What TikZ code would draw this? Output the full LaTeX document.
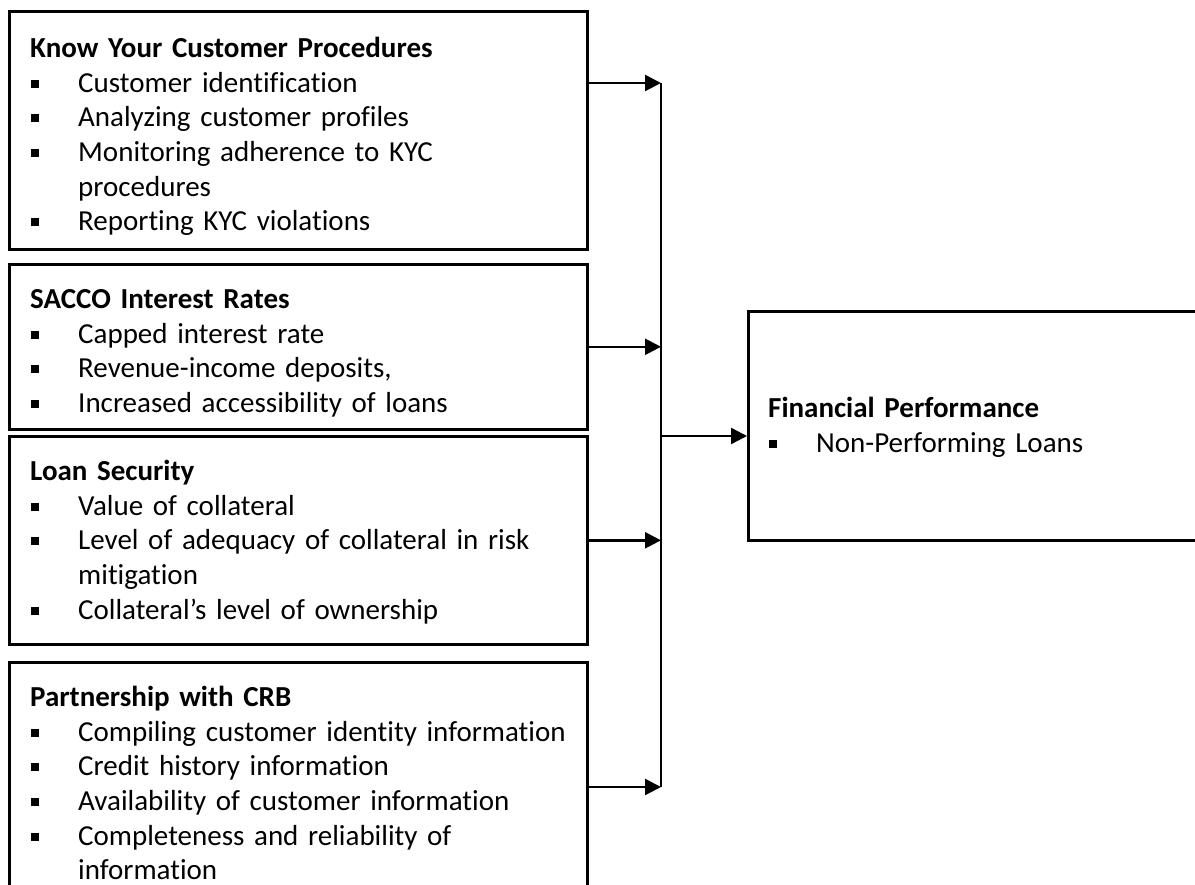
\documentclass[tikz,border=0pt]{standalone}
\usepackage{fontspec}
\setmainfont{Carlito}[Ligatures={NoCommon}]
\usetikzlibrary{positioning,arrows.meta}
\setlength{\parindent}{0pt}
\setlength{\parskip}{0pt}

%Square bullet and one item of a list
\newcommand{\sqbullet}{\rule[4.5pt]{8pt}{8pt}}
\newcommand{\bitem}[1]{\par\hangindent=48pt\hangafter=1\noindent\makebox[48pt][l]{\hspace{1pt}\sqbullet}#1\par}

\tikzset{
	factor/.style={draw, line width=2.6pt, minimum width=578pt, inner sep=0pt, anchor=north west},
	list/.style={font=\fontsize{29}{34.7}\selectfont, text width=560pt, inner sep=0pt},
	feed/.style={line width=2.4pt, -{Triangle[length=16pt,width=16pt]}},
	bus/.style={line width=1.5pt}
}

\begin{document}
\begin{tikzpicture}[x=1pt,y=-1pt]
	\useasboundingbox (0,0) rectangle (1195,885);
	\clip (0,0) rectangle (1195,885);
	%Boxes of the independent variables
	\node [factor, minimum height=238pt] (kyc) at (8,10) {};
	\node [factor, minimum height=165pt] (rates) at (8,263) {};
	\node [factor, minimum height=208pt] (security) at (8,435) {};
	\node [factor, minimum height=254pt] (crb) at (8,661) {};
	%Box of the dependent variable
	\node [factor, minimum width=480pt, minimum height=229pt] (perf) at (747,310) {};
	%Texts in the boxes
	\node [list, below right=23pt and 22pt of kyc.north west] (kyclist) {\noindent\strut\textbf{Know Your Customer Procedures}
		\bitem{Customer identification}
		\bitem{Analyzing customer profiles}
		\bitem{Monitoring adherence to KYC\newline procedures}
		\bitem{Reporting KYC violations}};
	\node [list, below right=21pt and 22pt of rates.north west] (rateslist) {\noindent\strut\textbf{SACCO Interest Rates}
		\bitem{Capped interest rate}
		\bitem{Revenue-income deposits,}
		\bitem{Increased accessibility of loans}};
	\node [list, below right=21pt and 22pt of security.north west] (securitylist) {\noindent\strut\textbf{Loan Security}
		\bitem{Value of collateral}
		\bitem{Level of adequacy of collateral in risk\newline mitigation}
		\bitem{Collateral’s level of ownership}};
	\node [list, below right=21pt and 22pt of crb.north west] (crblist) {\noindent\strut\textbf{Partnership with CRB}
		\bitem{Compiling customer identity information}
		\bitem{Credit history information}
		\bitem{Availability of customer information}
		\bitem{Completeness and reliability of\newline information}};
	\node [list, below right=83pt and 21pt of perf.north west] (perflist) {\noindent\strut\textbf{Financial Performance}
		\bitem{Non-Performing Loans}};
	%The vertical line collecting the arrows
	\coordinate (bustop) at (661,83);
	\coordinate (busbot) at (661,787);
	\coordinate (busout) at (661,436);
	\draw [bus] (bustop) -- (busbot);
	%Arrows
	\draw [feed] (kyc.east |- bustop) -- (bustop);
	\draw [feed] (rates.east) -- (rates.east -| bustop);
	\draw [feed] (security.east) -- (security.east -| bustop);
	\draw [feed] (crb.east |- busbot) -- (busbot);
	\draw [feed] (busout) -- (busout -| perf.west);
\end{tikzpicture}
\end{document}
